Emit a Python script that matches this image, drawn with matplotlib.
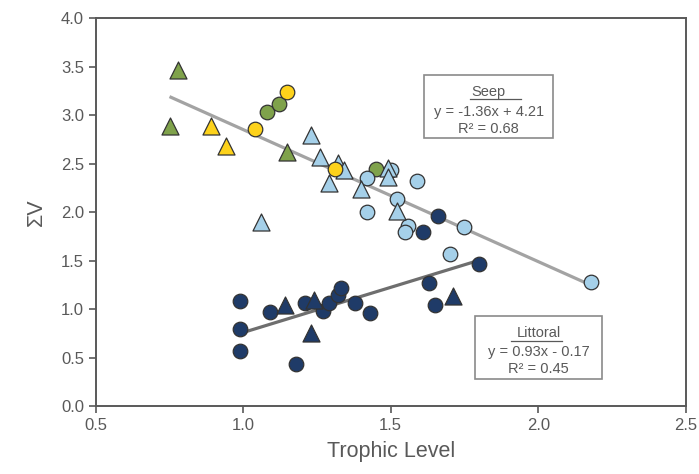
import numpy as np
import matplotlib.pyplot as plt
from matplotlib.patches import Rectangle

plt.rcParams['font.family'] = ['Liberation Sans', 'DejaVu Sans']

# Seep - puntos por grupo
green_tri_x = [0.78, 0.75, 1.15]
green_tri_y = [3.46, 2.89, 2.62]
green_circ_x = [1.08, 1.12, 1.45]
green_circ_y = [3.03, 3.11, 2.44]
yellow_tri_x = [0.89, 0.94]
yellow_tri_y = [2.89, 2.68]
yellow_circ_x = [1.15, 1.04, 1.31]
yellow_circ_y = [3.24, 2.86, 2.44]
lblue_tri_x = [1.23, 1.26, 1.32, 1.34, 1.29, 1.40, 1.49, 1.49, 1.52, 1.06]
lblue_tri_y = [2.79, 2.57, 2.51, 2.43, 2.30, 2.24, 2.45, 2.36, 2.01, 1.90]
lblue_circ_x = [1.42, 1.50, 1.59, 1.52, 1.42, 1.56, 1.55, 1.75, 1.70, 2.18]
lblue_circ_y = [2.35, 2.43, 2.32, 2.14, 2.00, 1.86, 1.80, 1.85, 1.57, 1.28]

# Littoral
dblue_circ_x = [1.66, 1.61, 1.80, 1.63, 1.65, 0.99, 0.99, 0.99, 1.18,
                1.09, 1.21, 1.27, 1.29, 1.32, 1.33, 1.38, 1.43]
dblue_circ_y = [1.96, 1.80, 1.47, 1.27, 1.04, 1.08, 0.80, 0.57, 0.43,
                0.97, 1.06, 0.98, 1.06, 1.15, 1.22, 1.06, 0.96]
dblue_tri_x = [1.14, 1.24, 1.23, 1.71]
dblue_tri_y = [1.04, 1.09, 0.75, 1.14]

# Regresiones
seep_m, seep_b, seep_r2 = -1.36, 4.21, 0.68
seep_xr = [0.75, 2.18]
lit_m, lit_b, lit_r2 = 0.93, -0.17, 0.45
lit_xr = [0.99, 1.80]

green = '#7fa24b'
yellow = '#fdd21b'
lblue = '#a5d0e9'
dblue = '#1f3b68'
edge = '#333333'
gray = '#595959'

fig = plt.figure(figsize=(6.99, 4.74), dpi=100)
ax = fig.add_axes([0.137, 0.143, 0.844, 0.819])

xs = np.array(seep_xr)
ax.plot(xs, seep_m * xs + seep_b, color='#a3a3a3', lw=2.3, zorder=1, solid_capstyle='butt')
xl = np.array(lit_xr)
ax.plot(xl, lit_m * xl + lit_b, color='#6e6e6e', lw=2.3, zorder=1, solid_capstyle='butt')

cs = 110
ts = 150
ax.scatter(green_circ_x, green_circ_y, s=cs, marker='o', c=green, edgecolors=edge, linewidths=0.9, zorder=2)
ax.scatter(lblue_circ_x, lblue_circ_y, s=cs, marker='o', c=lblue, edgecolors=edge, linewidths=0.9, zorder=3)
ax.scatter(lblue_tri_x, lblue_tri_y, s=ts, marker='^', c=lblue, edgecolors=edge, linewidths=0.9, zorder=4)
ax.scatter(yellow_circ_x, yellow_circ_y, s=cs, marker='o', c=yellow, edgecolors=edge, linewidths=0.9, zorder=5)
ax.scatter(yellow_tri_x, yellow_tri_y, s=ts, marker='^', c=yellow, edgecolors=edge, linewidths=0.9, zorder=5)
ax.scatter(green_tri_x, green_tri_y, s=ts, marker='^', c=green, edgecolors=edge, linewidths=0.9, zorder=5)
ax.scatter(dblue_circ_x, dblue_circ_y, s=cs, marker='o', c=dblue, edgecolors=edge, linewidths=0.9, zorder=5)
ax.scatter(dblue_tri_x, dblue_tri_y, s=ts, marker='^', c=dblue, edgecolors=edge, linewidths=0.9, zorder=5)

# Cuadros de ecuaciones
def cuadro(x0, x1, y0, y1, titulo, m, b, r2, yt, yu, ux):
    ax.add_patch(Rectangle((x0, y0), x1 - x0, y1 - y0, facecolor='white',
                           edgecolor='#8a8a8a', lw=1.2, zorder=6))
    xc = (x0 + x1) / 2
    signo = '+' if b >= 0 else '-'
    ax.text(xc, yt[0], titulo, ha='center', va='center', fontsize=10.5, color=gray, zorder=7)
    ax.plot(ux, [yu, yu], color=gray, lw=0.9, zorder=7)
    ax.text(xc, yt[1], 'y = %.2fx %s %.2f' % (m, signo, abs(b)), ha='center', va='center',
            fontsize=10.5, color=gray, zorder=7)
    ax.text(xc, yt[2], 'R² = %.2f' % r2, ha='center', va='center', fontsize=10.5, color=gray, zorder=7)

cuadro(1.614, 2.051, 2.76, 3.41, 'Seep', seep_m, seep_b, seep_r2,
       [3.24, 3.03, 2.86], 3.165, [1.768, 1.941])
cuadro(1.785, 2.216, 0.28, 0.93, 'Littoral', lit_m, lit_b, lit_r2,
       [0.755, 0.56, 0.385], 0.67, [1.907, 2.08])

ax.set_xlim(0.5, 2.5)
ax.set_ylim(0, 4.0)
ax.set_xticks([0.5, 1.0, 1.5, 2.0, 2.5])
ax.set_yticks(np.arange(0, 4.01, 0.5))
ax.xaxis.set_major_formatter(plt.FormatStrFormatter('%.1f'))
ax.yaxis.set_major_formatter(plt.FormatStrFormatter('%.1f'))
for s in ax.spines.values():
    s.set_color(gray)
    s.set_linewidth(1.4)
ax.tick_params(direction='out', length=5, width=1.2, color=gray, labelcolor=gray, labelsize=12)
ax.set_xlabel('Trophic Level', fontsize=15.5, color=gray, labelpad=6)
ax.set_ylabel('ΣV', fontsize=15.5, color=gray, labelpad=10)

fig.savefig('out.png', dpi=100)
